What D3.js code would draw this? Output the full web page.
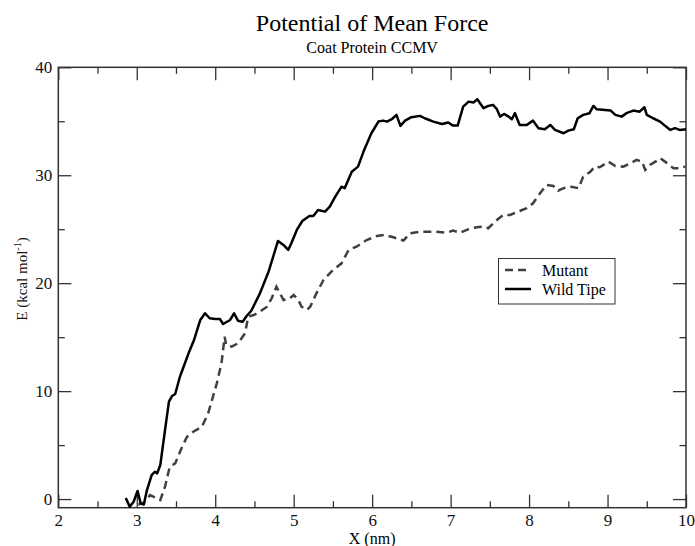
<!DOCTYPE html>
<html>
<head>
<meta charset="utf-8">
<script src="https://cdn.jsdelivr.net/npm/d3@7"></script>
<style>
  body { margin: 0; background: #fff; }
  svg { font-family: "Liberation Serif", "Times New Roman", serif; }
</style>
</head>
<body>
<div id="chart"></div>
<script>
// Wild type PMF (x in nm, E in kcal/mol)
const wildX = [2.86, 2.91, 2.96, 3.01, 3.05, 3.09, 3.13, 3.19, 3.23, 3.26, 3.30, 3.36, 3.41, 3.45, 3.49, 3.55, 3.66, 3.73, 3.81, 3.87,
  3.93, 4.00, 4.06, 4.10, 4.19, 4.24, 4.29, 4.35, 4.40, 4.46, 4.57, 4.68, 4.80, 4.87, 4.93, 4.97, 5.04, 5.11, 5.20, 5.25,
  5.31, 5.40, 5.46, 5.53, 5.61, 5.65, 5.74, 5.82, 5.89, 5.99, 6.08, 6.14, 6.19, 6.25, 6.31, 6.36, 6.42, 6.50, 6.61, 6.67,
  6.78, 6.89, 6.97, 7.03, 7.09, 7.16, 7.23, 7.29, 7.34, 7.42, 7.48, 7.54, 7.59, 7.63, 7.68, 7.74, 7.78, 7.82, 7.88, 7.97,
  8.05, 8.12, 8.20, 8.27, 8.33, 8.44, 8.50, 8.57, 8.62, 8.69, 8.77, 8.82, 8.86, 8.97, 9.04, 9.10, 9.18, 9.24, 9.33, 9.41,
  9.47, 9.50, 9.58, 9.67, 9.73, 9.80, 9.86, 9.92, 10.0];
const wildE = [0.1, -0.7, -0.25, 0.75, -0.4, -0.5, 0.83, 2.22, 2.53, 2.38, 3.15, 6.39, 9.02, 9.55, 9.73, 11.33, 13.5, 14.74, 16.59, 17.21,
  16.75, 16.68, 16.68, 16.22, 16.59, 17.21, 16.52, 16.43, 16.96, 17.45, 19.06, 21.07, 23.91, 23.54, 23.08, 23.7, 24.93, 25.76, 26.23, 26.23,
  26.78, 26.63, 27.09, 28.02, 28.94, 28.8, 30.33, 30.8, 32.19, 33.89, 34.97, 35.06, 34.97, 35.19, 35.59, 34.57, 35.06, 35.38, 35.5, 35.28,
  34.97, 34.75, 34.88, 34.6, 34.6, 36.36, 36.82, 36.73, 37.04, 36.21, 36.42, 36.52, 36.12, 35.43, 35.68, 35.43, 35.19, 35.75, 34.66, 34.66,
  35.06, 34.36, 34.26, 34.66, 34.2, 33.89, 34.13, 34.26, 35.28, 35.59, 35.75, 36.42, 36.12, 36.05, 35.99, 35.59, 35.43, 35.75, 35.99, 35.89,
  36.3, 35.59, 35.28, 34.97, 34.6, 34.2, 34.36, 34.2, 34.26];

// Mutant PMF
const mutX = [3.02, 3.08, 3.17, 3.30, 3.36, 3.42, 3.49, 3.57, 3.64, 3.72, 3.83, 3.91, 4.02, 4.08, 4.12, 4.14, 4.21, 4.29, 4.38, 4.42,
  4.49, 4.57, 4.66, 4.72, 4.78, 4.87, 4.95, 5.00, 5.06, 5.10, 5.17, 5.21, 5.29, 5.38, 5.50, 5.61, 5.70, 5.80, 5.93, 6.06,
  6.16, 6.27, 6.40, 6.48, 6.61, 6.72, 6.82, 6.95, 7.03, 7.12, 7.23, 7.33, 7.42, 7.48, 7.59, 7.67, 7.76, 7.86, 7.97, 8.05,
  8.14, 8.22, 8.31, 8.37, 8.44, 8.54, 8.63, 8.69, 8.78, 8.84, 8.90, 9.01, 9.10, 9.20, 9.29, 9.37, 9.44, 9.48, 9.54, 9.61,
  9.67, 9.75, 9.84, 9.92, 9.99];
const mutE = [-0.5, -0.4, 0.37, -0.09, 1.14, 2.99, 3.31, 4.7, 5.77, 6.24, 6.7, 7.94, 10.72, 12.58, 15.04, 14.27, 14.12, 14.43, 15.36, 16.9,
  17.05, 17.36, 17.82, 18.6, 19.68, 18.44, 18.6, 18.91, 18.44, 17.82, 17.52, 17.82, 19.06, 20.3, 21.22, 21.84, 23.08, 23.38, 24.0, 24.37,
  24.47, 24.25, 23.94, 24.62, 24.77, 24.77, 24.77, 24.68, 24.87, 24.68, 25.0, 25.18, 25.24, 25.09, 25.86, 26.32, 26.32, 26.63, 26.94, 27.4,
  28.33, 29.1, 29.01, 28.57, 28.8, 28.94, 28.8, 29.87, 30.33, 30.8, 30.74, 31.26, 30.86, 30.8, 31.11, 31.42, 31.26, 30.49, 30.95, 31.26,
  31.58, 31.17, 30.65, 30.65, 30.8];

const xMajor = [2, 3, 4, 5, 6, 7, 8, 9, 10];
const xMinor = [2.5, 3.5, 4.5, 5.5, 6.5, 7.5, 8.5, 9.5];
const yMajor = [0, 10, 20, 30, 40];
const yMinor = [5, 15, 25, 35];

const w = 695;
const h = 546;
const plotL = 58.3, plotR = 686, plotT = 67.3, plotB = 507.7;
const axisColor = "#333";

const xScale = d3.scaleLinear().domain([2, 10]).range([plotL, plotR]);
const yScale = d3.scaleLinear().domain([-0.8, 40]).range([plotB, plotT]);

const svg = d3.select("#chart")
  .append("svg")
  .attr("width", w)
  .attr("height", h);

// title
svg.append("text")
  .attr("x", (plotL + plotR) / 2)
  .attr("y", 31)
  .attr("text-anchor", "middle")
  .attr("font-size", "24px")
  .text("Potential of Mean Force");

svg.append("text")
  .attr("x", (plotL + plotR) / 2)
  .attr("y", 53)
  .attr("text-anchor", "middle")
  .attr("font-size", "16px")
  .text("Coat Protein CCMV");

// axes with inward ticks
function styleAxis(g) {
  g.select(".domain").remove();
  g.selectAll("line").attr("stroke", axisColor).attr("stroke-width", 1.3);
  g.selectAll("text")
    .attr("font-family", "Liberation Serif, Times New Roman, serif")
    .attr("font-size", "17px")
    .attr("fill", "#111");
}

svg.append("g")
  .attr("transform", `translate(0,${plotB})`)
  .call(d3.axisBottom(xScale).tickValues(xMajor).tickSize(-13).tickPadding(6).tickFormat(d3.format("d")))
  .call(styleAxis);
svg.append("g")
  .attr("transform", `translate(0,${plotB})`)
  .call(d3.axisBottom(xScale).tickValues(xMinor).tickSize(-6.5).tickFormat(""))
  .call(styleAxis);
svg.append("g")
  .attr("transform", `translate(0,${plotT})`)
  .call(d3.axisTop(xScale).tickValues(xMajor).tickSize(-13).tickFormat(""))
  .call(styleAxis);
svg.append("g")
  .attr("transform", `translate(0,${plotT})`)
  .call(d3.axisTop(xScale).tickValues(xMinor).tickSize(-6.5).tickFormat(""))
  .call(styleAxis);

svg.append("g")
  .attr("transform", `translate(${plotL},0)`)
  .call(d3.axisLeft(yScale).tickValues(yMajor).tickSize(-13).tickPadding(6).tickFormat(d3.format("d")))
  .call(styleAxis);
svg.append("g")
  .attr("transform", `translate(${plotL},0)`)
  .call(d3.axisLeft(yScale).tickValues(yMinor).tickSize(-6.5).tickFormat(""))
  .call(styleAxis);
svg.append("g")
  .attr("transform", `translate(${plotR},0)`)
  .call(d3.axisRight(yScale).tickValues(yMajor).tickSize(-13).tickFormat(""))
  .call(styleAxis);
svg.append("g")
  .attr("transform", `translate(${plotR},0)`)
  .call(d3.axisRight(yScale).tickValues(yMinor).tickSize(-6.5).tickFormat(""))
  .call(styleAxis);

// frame
svg.append("rect")
  .attr("x", plotL)
  .attr("y", plotT)
  .attr("width", plotR - plotL)
  .attr("height", plotB - plotT)
  .attr("fill", "none")
  .attr("stroke", axisColor)
  .attr("stroke-width", 1.5);

// axis labels
svg.append("text")
  .attr("x", (plotL + plotR) / 2)
  .attr("y", 544)
  .attr("text-anchor", "middle")
  .attr("font-size", "16px")
  .text("X (nm)");

const yLab = svg.append("text")
  .attr("transform", `translate(27,279) rotate(-90)`)
  .attr("text-anchor", "middle")
  .attr("font-size", "15px")
  .attr("fill", "#111");
yLab.append("tspan").text("E (kcal mol");
yLab.append("tspan").attr("dy", -6).attr("font-size", "10px").text("-1");
yLab.append("tspan").attr("dy", 6).text(")");

// curves
const line = d3.line()
  .x(d => xScale(d[0]))
  .y(d => yScale(d[1]));

const mutant = mutX.map((x, i) => [x, mutE[i]]);
const wild = wildX.map((x, i) => [x, wildE[i]]);

svg.append("path")
  .datum(mutant)
  .attr("d", line)
  .attr("fill", "none")
  .attr("stroke", "#404040")
  .attr("stroke-width", 2.5)
  .attr("stroke-dasharray", "8,5");

svg.append("path")
  .datum(wild)
  .attr("d", line)
  .attr("fill", "none")
  .attr("stroke", "#000")
  .attr("stroke-width", 2.5)
  .attr("stroke-linejoin", "round");

// legend
const legend = svg.append("g");
legend.append("rect")
  .attr("x", 498.5)
  .attr("y", 258.5)
  .attr("width", 116.5)
  .attr("height", 45.5)
  .attr("fill", "#fff")
  .attr("stroke", "#333")
  .attr("stroke-width", 1);

const legendItems = [
  { name: "Mutant", color: "#404040", dash: "8,5", y: 270 },
  { name: "Wild Tipe", color: "#000", dash: null, y: 289 }
];

legend.selectAll("line.key")
  .data(legendItems)
  .enter()
  .append("line")
  .attr("x1", 505)
  .attr("x2", 531)
  .attr("y1", d => d.y)
  .attr("y2", d => d.y)
  .attr("stroke", d => d.color)
  .attr("stroke-width", 2.5)
  .attr("stroke-dasharray", d => d.dash);

legend.selectAll("text.key")
  .data(legendItems)
  .enter()
  .append("text")
  .attr("x", 542)
  .attr("y", d => d.y + 5.5)
  .attr("font-size", "16px")
  .text(d => d.name);
</script>
</body>
</html>
